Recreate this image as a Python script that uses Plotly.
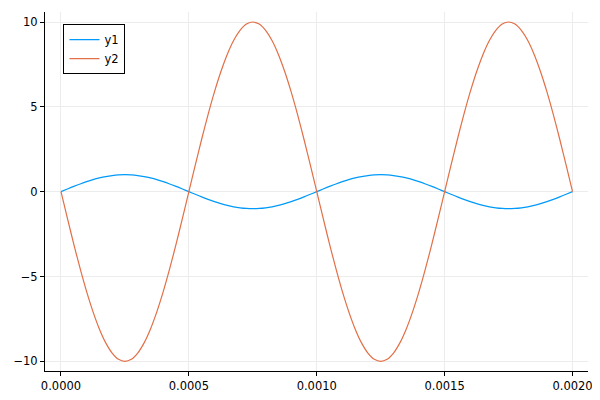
import plotly.graph_objects as go

t = [i * 0.000025 for i in range(81)]
y1_period = [0.0, 0.156, 0.309, 0.454, 0.588, 0.707, 0.809, 0.891, 0.951, 0.988,
             1.0, 0.988, 0.951, 0.891, 0.809, 0.707, 0.588, 0.454, 0.309, 0.156,
             0.0, -0.156, -0.309, -0.454, -0.588, -0.707, -0.809, -0.891, -0.951, -0.988,
             -1.0, -0.988, -0.951, -0.891, -0.809, -0.707, -0.588, -0.454, -0.309, -0.156]
y1 = y1_period + y1_period + [0.0]
y2_period = [0.0, -1.56, -3.09, -4.54, -5.88, -7.07, -8.09, -8.91, -9.51, -9.88,
             -10.0, -9.88, -9.51, -8.91, -8.09, -7.07, -5.88, -4.54, -3.09, -1.56,
             0.0, 1.56, 3.09, 4.54, 5.88, 7.07, 8.09, 8.91, 9.51, 9.88,
             10.0, 9.88, 9.51, 8.91, 8.09, 7.07, 5.88, 4.54, 3.09, 1.56]
y2 = y2_period + y2_period + [0.0]

x_ticks = [0.0, 0.0005, 0.0010, 0.0015, 0.0020]
x_labels = ["0.0000", "0.0005", "0.0010", "0.0015", "0.0020"]
y_ticks = [-10, -5, 0, 5, 10]
y_labels = ["\u221210", "\u22125", "0", "5", "10"]

fig = go.Figure()
fig.add_trace(go.Scatter(x=t, y=y1, mode="lines", name="y1",
                         line=dict(color="#009AFA", width=1.2, shape="spline", smoothing=0.8)))
fig.add_trace(go.Scatter(x=t, y=y2, mode="lines", name="y2",
                         line=dict(color="#E26F46", width=1.2, shape="spline", smoothing=0.8)))

axis_common = dict(showgrid=True, gridcolor="#ececec", gridwidth=1,
                   showline=True, linecolor="black", linewidth=1,
                   ticks="outside", ticklen=4, tickcolor="black",
                   zeroline=False, mirror=False, automargin=False,
                   tickfont=dict(family="DejaVu Sans", size=11.5, color="black"))

fig.update_layout(
    width=592, height=392,
    margin=dict(l=36.5, r=12, t=4, b=29),
    paper_bgcolor="white", plot_bgcolor="white",
    xaxis=dict(range=[-6.25e-5, 0.0020605], tickvals=x_ticks, ticktext=x_labels, **axis_common),
    yaxis=dict(range=[-10.57, 10.59], tickvals=y_ticks, ticktext=y_labels, **axis_common),
    legend=dict(x=0.034, y=0.966, xanchor="left", yanchor="top",
                bordercolor="black", borderwidth=1, bgcolor="white",
                font=dict(family="DejaVu Sans", size=11.5, color="black"),
                tracegroupgap=0, itemwidth=30),
    showlegend=True,
)

fig.write_html("out.html")
